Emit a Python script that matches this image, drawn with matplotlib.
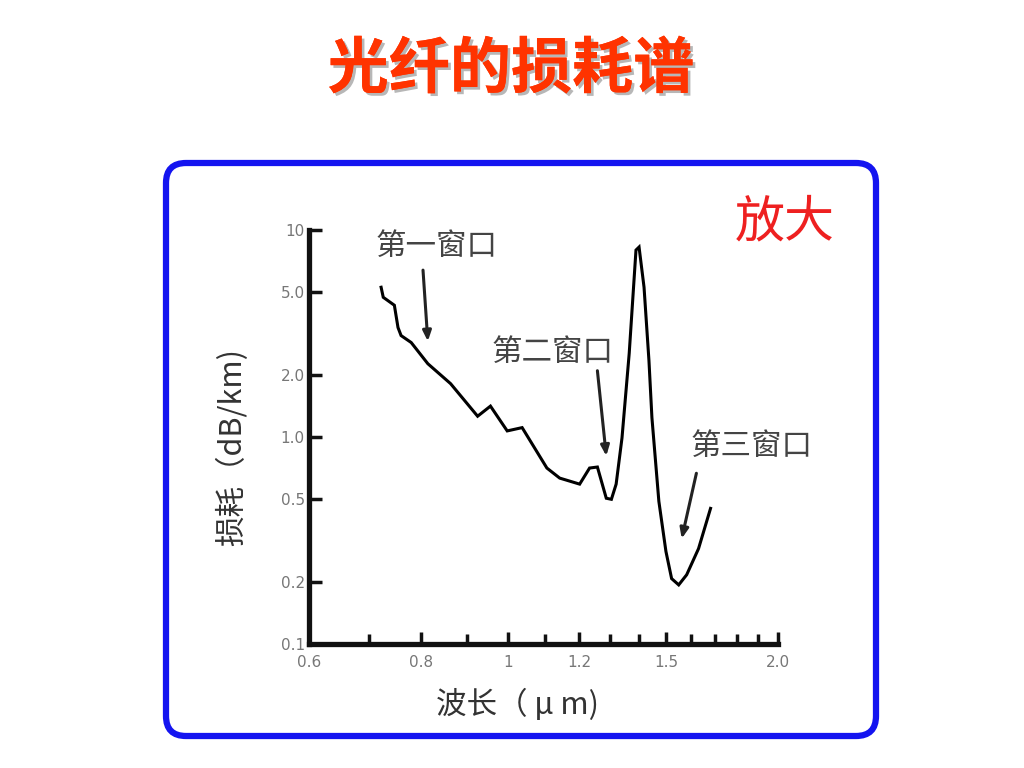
import numpy as np
import matplotlib
matplotlib.use('Agg')
import matplotlib.pyplot as plt
import matplotlib.patheffects as pe
from matplotlib.patches import FancyBboxPatch
from matplotlib.ticker import FixedLocator, FixedFormatter, NullLocator, NullFormatter

plt.rcParams['font.family'] = ['Noto Sans CJK SC', 'DejaVu Sans']

# ---- data ----
wavelength = [0.722, 0.726, 0.747, 0.754, 0.760, 0.780, 0.814, 0.863, 0.925, 0.956,
              0.998, 1.037, 1.105, 1.142, 1.202, 1.233, 1.258, 1.287, 1.304, 1.320,
              1.340, 1.365, 1.389, 1.400, 1.418, 1.436, 1.447, 1.473, 1.500, 1.522,
              1.550, 1.582, 1.631, 1.682]
loss = [5.29, 4.73, 4.33, 3.38, 3.09, 2.86, 2.26, 1.81, 1.26, 1.41,
        1.07, 1.11, 0.708, 0.633, 0.592, 0.708, 0.716, 0.506, 0.500, 0.592,
        0.99, 2.53, 8.0, 8.27, 5.29, 2.34, 1.24, 0.489, 0.280, 0.207,
        0.193, 0.216, 0.289, 0.452]

x_major = [0.6, 0.8, 1.0, 1.2, 1.5, 2.0]
x_major_labels = ['0.6', '0.8', '1', '1.2', '1.5', '2.0']
x_minor = [0.7, 0.9, 1.1, 1.3, 1.4, 1.6, 1.7, 1.8, 1.9]
y_ticks = [0.1, 0.2, 0.5, 1.0, 2.0, 5.0, 10.0]
y_tick_labels = ['0.1', '0.2', '0.5', '1.0', '2.0', '5.0', '10']

window_labels = ['第一窗口', '第二窗口', '第三窗口']
arrow_tail = [(0.804, 6.4), (1.258, 2.09), (1.622, 0.668)]
arrow_tip = [(0.814, 2.9), (1.287, 0.81), (1.562, 0.323)]

W, H = 1024, 768
fig = plt.figure(figsize=(W / 100, H / 100), dpi=100)
fig.patch.set_facecolor('white')

def fx(px):
    return px / W

def fy(py):
    return 1 - py / H

# blue rounded frame (in inches so the corners are round)
frame = FancyBboxPatch((166 / 100, (768 - 736) / 100), (876 - 166) / 100, (736 - 163) / 100,
                       boxstyle='round,pad=0,rounding_size=0.2',
                       transform=fig.dpi_scale_trans, facecolor='none',
                       edgecolor='#1414f0', linewidth=4.5, zorder=-1)
fig.patches.append(frame)

# title with shadow
title = '光纤的损耗谱'
fig.text(fx(511), fy(70), title, ha='center', va='center',
         fontsize=44, fontweight='bold', color='#ff3300',
         path_effects=[pe.withSimplePatchShadow(offset=(2, -2), shadow_rgbFace='#999999', alpha=0.7),
                       pe.Normal()])

fig.text(fx(785), fy(222), '放大', ha='center', va='center', fontsize=36,
         color='#ee2020', fontweight='light')

# axes
ax = fig.add_axes([fx(309), fy(644), 469 / W, 414 / H])
ax.set_facecolor('none')
ax.set_xscale('log')
ax.set_yscale('log')
ax.set_xlim(0.6, 2.0)
ax.set_ylim(0.1, 10)

ax.plot(wavelength, loss, color='black', lw=2.2, solid_joinstyle='miter')

for s in ['top', 'right']:
    ax.spines[s].set_visible(False)
for s in ['left', 'bottom']:
    ax.spines[s].set_linewidth(3.8)
    ax.spines[s].set_color('#111111')

ax.xaxis.set_major_locator(FixedLocator(x_major))
ax.xaxis.set_major_formatter(FixedFormatter(x_major_labels))
ax.xaxis.set_minor_locator(FixedLocator(x_minor))
ax.xaxis.set_minor_formatter(NullFormatter())
ax.yaxis.set_major_locator(FixedLocator(y_ticks))
ax.yaxis.set_major_formatter(FixedFormatter(y_tick_labels))
ax.yaxis.set_minor_locator(NullLocator())

ax.tick_params(axis='both', which='both', direction='in', width=2.5,
               color='#111111', labelsize=11, labelcolor='#777777')
ax.tick_params(axis='x', which='major', length=9, pad=8)
ax.tick_params(axis='x', which='minor', length=7)
ax.tick_params(axis='y', which='major', length=9, pad=3)
for lab in ax.get_xticklabels() + ax.get_yticklabels():
    lab.set_family('DejaVu Sans')

fig.text(fx(232), fy(447), '损耗（dB/km)', rotation=90, ha='center', va='center',
         fontsize=22, color='#333333')
fig.text(fx(518), fy(705), '波长（ μ m)', ha='center', va='center',
         fontsize=22, color='#333333')

# window labels and arrows
label_pos = [(437, 246), (553, 352), (752, 446)]
for text, (lx, ly) in zip(window_labels, label_pos):
    fig.text(fx(lx), fy(ly), text, ha='center', va='center', fontsize=22,
             color='#444444')
for tail, tip in zip(arrow_tail, arrow_tip):
    ax.annotate('', xy=tip, xytext=tail,
                arrowprops=dict(arrowstyle='-|>,head_length=0.6,head_width=0.25',
                                color='#222222', lw=2.2, shrinkA=0, shrinkB=0))

fig.savefig('out.png', dpi=100, facecolor='white')
